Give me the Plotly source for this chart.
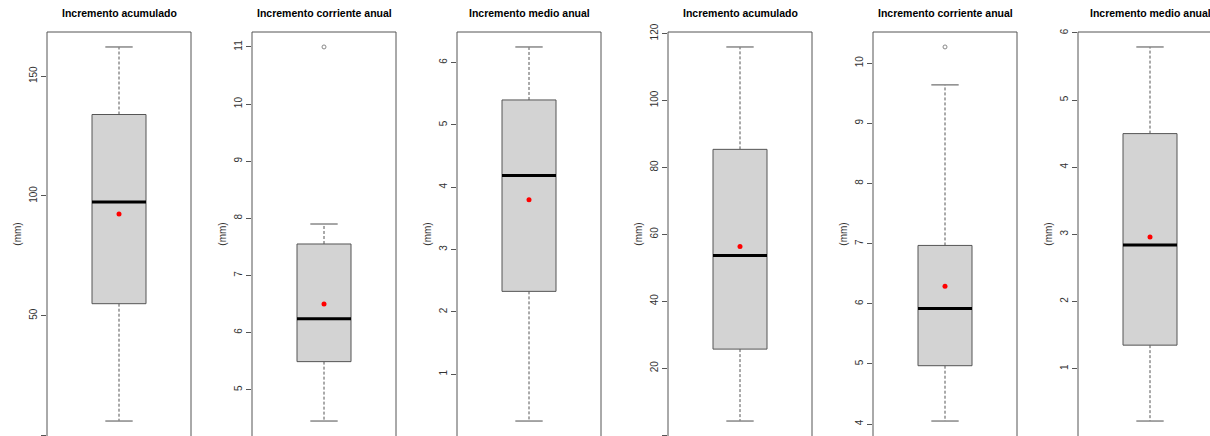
import plotly.graph_objects as go

# ---- data ----
titles = ["Incremento acumulado", "Incremento corriente anual", "Incremento medio anual",
          "Incremento acumulado", "Incremento corriente anual", "Incremento medio anual"]
lower_whisker = [6.0, 4.45, 0.25, 4.2, 4.05, 0.22]
q1 = [55.0, 5.49, 2.33, 25.7, 4.97, 1.35]
median = [97.5, 6.24, 4.19, 53.7, 5.92, 2.84]
q3 = [134.0, 7.55, 5.40, 85.4, 6.97, 4.50]
upper_whisker = [162.2, 7.90, 6.25, 116.0, 9.64, 5.79]
means = [92.5, 6.50, 3.80, 56.4, 6.29, 2.96]
outliers = [[], [11.0], [], [], [10.27], []]
tick_values = [[0, 50, 100, 150], [5, 6, 7, 8, 9, 10, 11], [1, 2, 3, 4, 5, 6],
               [0, 20, 40, 60, 80, 100, 120], [4, 5, 6, 7, 8, 9, 10], [1, 2, 3, 4, 5, 6]]
y_label = "(mm)"

# ---- layout geometry ----
W, H = 1210, 436
TOP = 32
panel_left = [47, 252, 457, 668, 873, 1078]
panel_w = 144
box_half = 0.375
staple_half = 0.19
FONT = "Liberation Sans, Arial, sans-serif"
FRAME = "#555555"

fig = go.Figure()
layout = dict(
    width=W, height=H, margin=dict(l=0, r=0, t=TOP, b=0, autoexpand=False),
    paper_bgcolor="white", plot_bgcolor="white", showlegend=False,
    font=dict(family=FONT, color="#333333"),
)
shapes, annotations = [], []

for i in range(6):
    n = i + 1
    xa = "x" if n == 1 else f"x{n}"
    ya = "y" if n == 1 else f"y{n}"
    x0 = panel_left[i]
    x1 = min(W, x0 + panel_w)
    dw = x1 - x0
    lo_vals = [lower_whisker[i]] + outliers[i]
    hi_vals = [upper_whisker[i]] + outliers[i]
    lo, hi = min(lo_vals), max(hi_vals)
    ext = 0.04 * (hi - lo)
    yr = [lo - ext, hi + ext]

    layout["xaxis" if n == 1 else f"xaxis{n}"] = dict(
        domain=[x0 / W, x1 / W], range=[-1, -1 + 2 * dw / panel_w],
        visible=False, anchor=ya, fixedrange=True, automargin=False)
    layout["yaxis" if n == 1 else f"yaxis{n}"] = dict(
        domain=[0, 1], range=yr, anchor=xa, showgrid=False, zeroline=False,
        showline=False, ticks="outside", ticklen=5, tickcolor=FRAME, tickwidth=1,
        tickvals=tick_values[i], tickangle=-90, automargin=False,
        tickfont=dict(size=10, color="#333333", family=FONT),
        title=dict(text=y_label, font=dict(size=10, color="#333333", family=FONT), standoff=4),
        fixedrange=True)

    # frame (bottom edge falls outside the window as in the reference)
    shapes.append(dict(type="rect", xref=f"{xa} domain", yref=f"{ya} domain",
                       x0=0, x1=panel_w / dw, y0=-0.02, y1=1,
                       line=dict(color=FRAME, width=1), fillcolor="rgba(0,0,0,0)", layer="above"))

    # whiskers
    fig.add_trace(go.Scatter(x=[0, 0, None, 0, 0],
                             y=[q3[i], upper_whisker[i], None, q1[i], lower_whisker[i]],
                             mode="lines", line=dict(color="#555555", width=1, dash="3px,2px"),
                             xaxis=xa, yaxis=ya, hoverinfo="skip"))
    # staples
    fig.add_trace(go.Scatter(x=[-staple_half, staple_half, None, -staple_half, staple_half],
                             y=[upper_whisker[i], upper_whisker[i], None, lower_whisker[i], lower_whisker[i]],
                             mode="lines", line=dict(color="#888888", width=1.5),
                             xaxis=xa, yaxis=ya, hoverinfo="skip"))
    # box
    fig.add_trace(go.Scatter(x=[-box_half, box_half, box_half, -box_half, -box_half],
                             y=[q1[i], q1[i], q3[i], q3[i], q1[i]],
                             mode="lines", fill="toself", fillcolor="#D3D3D3",
                             line=dict(color="#555555", width=1),
                             xaxis=xa, yaxis=ya, hoverinfo="skip"))
    # median
    fig.add_trace(go.Scatter(x=[-box_half, box_half], y=[median[i], median[i]],
                             mode="lines", line=dict(color="black", width=3),
                             xaxis=xa, yaxis=ya, hoverinfo="skip"))
    # outliers
    if outliers[i]:
        fig.add_trace(go.Scatter(x=[0] * len(outliers[i]), y=outliers[i], mode="markers",
                                 marker=dict(symbol="circle-open", size=4, color="#888888",
                                             line=dict(width=1)),
                                 xaxis=xa, yaxis=ya))
    # mean
    fig.add_trace(go.Scatter(x=[0], y=[means[i]], mode="markers",
                             marker=dict(color="red", size=5),
                             xaxis=xa, yaxis=ya))

    annotations.append(dict(text=f"<b>{titles[i]}</b>", xref=f"{xa} domain", yref="paper",
                            x=(panel_w / 2) / dw, y=1 + (TOP - 13) / (H - TOP),
                            xanchor="center", yanchor="middle", showarrow=False,
                            font=dict(size=10.5, color="black", family=FONT)))

layout["shapes"] = shapes
layout["annotations"] = annotations
fig.update_layout(**layout)
fig.write_html("out.html", config={"displayModeBar": False},
               post_script="document.body.style.margin='0';document.body.style.overflow='hidden';")
